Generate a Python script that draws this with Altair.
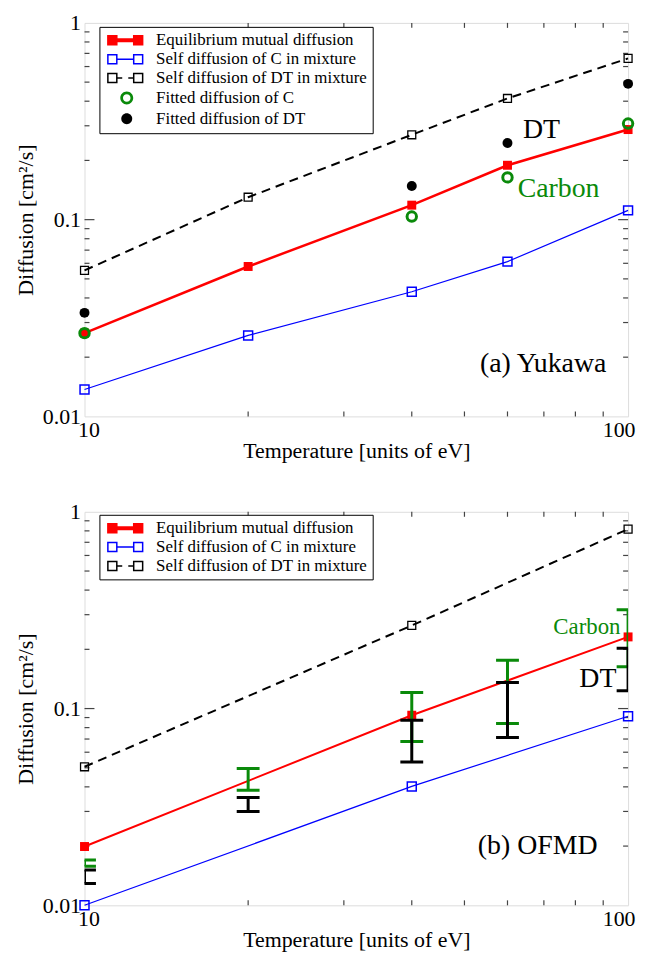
import altair as alt
import pandas as pd

FONT = "Liberation Serif"
RED = "#ff0000"
BLUE = "#0000ff"
GREEN = "#0a8a0a"
BLACK = "#000000"
FRAME = "#444444"

# ---------------- data: panel (a) Yukawa ----------------
T_a = [10, 20, 40, 60, 100]
mutual_a = [0.0265, 0.0578, 0.1185, 0.189, 0.287]
selfC_a = [0.0137, 0.0258, 0.0430, 0.0612, 0.1115]
selfDT_a = [0.0552, 0.130, 0.270, 0.413, 0.660]
T_fit = [10, 40, 60, 100]
fitC_a = [0.0265, 0.1037, 0.164, 0.308]
fitDT_a = [0.0336, 0.1484, 0.2455, 0.49]

# ---------------- data: panel (b) OFMD ----------------
T_b = [10, 40, 100]
mutual_b = [0.0199, 0.0925, 0.2313]
selfC_b = [0.0100, 0.0402, 0.0914]
selfDT_b = [0.0506, 0.2645, 0.817]
T_err = [10, 20, 40, 60, 100]
carbon_lo = [0.0158, 0.0384, 0.0681, 0.0840, 0.163]
carbon_hi = [0.0170, 0.0496, 0.1208, 0.1758, 0.318]
dt_lo = [0.0129, 0.0300, 0.0535, 0.0713, 0.1231]
dt_hi = [0.0151, 0.0353, 0.0873, 0.1355, 0.2025]

# ---------------- labels ----------------
legend_a = ["Equilibrium mutual diffusion", "Self diffusion of C in mixture",
            "Self diffusion of DT in mixture", "Fitted diffusion of C", "Fitted diffusion of DT"]
legend_b = legend_a[:3]
x_title = "Temperature [units of eV]"
y_title = "Diffusion [cm²/s]"
x_labels = [10, 100]
y_labels = [0.01, 0.1, 1]
x_minor = [20, 30, 40, 50, 60, 70, 80, 90]
y_minor = [0.02, 0.03, 0.04, 0.05, 0.06, 0.07, 0.08, 0.09,
           0.2, 0.3, 0.4, 0.5, 0.6, 0.7, 0.8, 0.9]
y_major = [0.1]

ann_a_text = ["DT", "Carbon", "(a) Yukawa"]
ann_a_x = [69.3, 74.5, 69.8]
ann_a_y = [0.284, 0.1426, 0.01836]
ann_a_color = [BLACK, GREEN, BLACK]
ann_a_size = [28, 28, 28]

ann_b_text = ["Carbon", "DT", "(b) OFMD"]
ann_b_x = [84.0, 88.0, 68.2]
ann_b_y = [0.261, 0.142, 0.0201]
ann_b_color = [GREEN, BLACK, BLACK]
ann_b_size = [23, 28, 28]

W = 547
H_A = 396
H_B = 396

# legend symbol paths (unit = 7px)
SQ_L = "M-0.714,-0.643H0.571V0.643H-0.714Z"
SQ_R = "M3,-0.643H4.286V0.643H3Z"
P_RED = SQ_L + SQ_R + "M0.571,-0.18H3V0.18H0.571Z"
P_BLUE = SQ_L + SQ_R + "M0.571,0H3"
P_BLACK = SQ_L + SQ_R + "M0.571,0H1.35M2.22,0H3"
P_RING = ("M2.929,0A0.929,0.929 0 1,0 1.071,0A0.929,0.929 0 1,0 2.929,0Z"
          "M2.543,0A0.543,0.543 0 1,1 1.457,0A0.543,0.543 0 1,1 2.543,0Z")
P_DOT = "M2.786,0A0.786,0.786 0 1,0 1.214,0A0.786,0.786 0 1,0 2.786,0Z"

xscale = alt.Scale(type="log", domain=[10, 100], nice=False)
yscale = alt.Scale(type="log", domain=[0.01, 1], nice=False)

xaxis = alt.Axis(values=x_labels, format="~g", title=x_title, ticks=False, tickSize=0,
                 grid=False, domain=False, labelFont=FONT, labelFontSize=22,
                 labelColor="black", labelPadding=3, titleFont=FONT, titleFontSize=22,
                 titleFontWeight="normal", titleColor="black", titlePadding=0,
                 labelFlush=True, labelFlushOffset=7)
yaxis = alt.Axis(values=y_labels, format="~g", title=y_title, ticks=False, tickSize=0,
                 grid=False, domain=False, labelFont=FONT, labelFontSize=22,
                 labelColor="black", labelPadding=4, titleFont=FONT, titleFontSize=22,
                 titleFontWeight="normal", titleColor="black", titlePadding=5,
                 labelFlush=False)


def series_df(xs, ys):
    return pd.DataFrame({"T": xs, "D": ys})


def line_with_points(xs, ys, color, width, dash=None, filled=True, size=81, sw=1.5):
    df = series_df(xs, ys)
    enc = dict(x=alt.X("T:Q", scale=xscale, axis=xaxis),
               y=alt.Y("D:Q", scale=yscale, axis=yaxis))
    lkw = dict(color=color, strokeWidth=width)
    if dash:
        lkw["strokeDash"] = dash
    line = alt.Chart(df).mark_line(**lkw).encode(**enc)
    pts = alt.Chart(df).mark_point(shape="square", filled=filled, size=size,
                                   color=color, strokeWidth=sw, opacity=1).encode(**enc)
    return [line, pts]


def frame_ticks(H):
    layers = []
    dx = pd.DataFrame({"T": x_minor})
    for y0, y1 in [(0, 5), (H, H - 5)]:
        layers.append(alt.Chart(dx).mark_rule(color=FRAME, strokeWidth=1.2).encode(
            x=alt.X("T:Q", scale=xscale, axis=xaxis), y=alt.value(y0), y2=alt.value(y1)))
    dym = pd.DataFrame({"D": y_minor})
    dyM = pd.DataFrame({"D": y_major})
    for d, ln in [(dym, 5), (dyM, 10)]:
        for x0, x1 in [(0, ln), (W, W - ln)]:
            layers.append(alt.Chart(d).mark_rule(color=FRAME, strokeWidth=1.2).encode(
                y=alt.Y("D:Q", scale=yscale, axis=yaxis), x=alt.value(x0), x2=alt.value(x1)))
    return layers


def legend_layer(labels, paths, fills, strokes, ly):
    df = pd.DataFrame({"series": labels})
    leg = alt.Legend(title=None, orient="none", legendX=15, legendY=ly,
                     labelFont=FONT, labelFontSize=17, labelColor="black",
                     symbolSize=196, symbolStrokeWidth=1.5, labelOffset=35,
                     padding=5, rowPadding=1, strokeColor="black", fillColor="white",
                     cornerRadius=0, labelLimit=400, symbolOpacity=1)
    return alt.Chart(df).transform_filter("false").mark_point(opacity=1).encode(
        shape=alt.Shape("series:N", scale=alt.Scale(domain=labels, range=paths), legend=leg),
        fill=alt.Fill("series:N", scale=alt.Scale(domain=labels, range=fills), legend=leg),
        stroke=alt.Stroke("series:N", scale=alt.Scale(domain=labels, range=strokes), legend=leg),
    )


def annotations(texts, xs, ys, colors, sizes):
    layers = []
    for t, x, y, c, s in zip(texts, xs, ys, colors, sizes):
        df = pd.DataFrame({"T": [x], "D": [y], "label": [t]})
        layers.append(alt.Chart(df).mark_text(font=FONT, fontSize=s, color=c,
                                              align="center", baseline="middle").encode(
            x=alt.X("T:Q", scale=xscale, axis=xaxis),
            y=alt.Y("D:Q", scale=yscale, axis=yaxis), text="label:N"))
    return layers


def errorbars(xs, lo, hi, color):
    df = pd.DataFrame({"T": xs, "lo": lo, "hi": hi})
    rule = alt.Chart(df).mark_rule(color=color, strokeWidth=3, clip=True).encode(
        x=alt.X("T:Q", scale=xscale, axis=xaxis),
        y=alt.Y("lo:Q", scale=yscale, axis=yaxis), y2="hi:Q")
    caps = []
    for f in ["lo", "hi"]:
        caps.append(alt.Chart(df).mark_tick(color=color, orient="horizontal", size=23,
                                            thickness=3, clip=True, opacity=1).encode(
            x=alt.X("T:Q", scale=xscale, axis=xaxis),
            y=alt.Y(f"{f}:Q", scale=yscale, axis=yaxis)))
    return [rule] + caps


# ---------------- panel (a) ----------------
layers_a = []
layers_a += frame_ticks(H_A)
layers_a += line_with_points(T_a, mutual_a, RED, 2.5, filled=True, size=81)
layers_a += line_with_points(T_a, selfC_a, BLUE, 1.2, filled=False, size=81, sw=1.5)
layers_a += line_with_points(T_a, selfDT_a, BLACK, 2, dash=[9, 6], filled=False, size=64, sw=1.3)
layers_a.append(alt.Chart(series_df(T_fit, fitC_a)).mark_point(
    shape="circle", filled=False, size=90, color=GREEN, strokeWidth=3, opacity=1).encode(
    x=alt.X("T:Q", scale=xscale, axis=xaxis), y=alt.Y("D:Q", scale=yscale, axis=yaxis)))
layers_a.append(alt.Chart(series_df(T_fit, fitDT_a)).mark_point(
    shape="circle", filled=True, size=100, color=BLACK, opacity=1).encode(
    x=alt.X("T:Q", scale=xscale, axis=xaxis), y=alt.Y("D:Q", scale=yscale, axis=yaxis)))
layers_a += annotations(ann_a_text, ann_a_x, ann_a_y, ann_a_color, ann_a_size)
layers_a.append(legend_layer(legend_a, [P_RED, P_BLUE, P_BLACK, P_RING, P_DOT],
                             [RED, "transparent", "transparent", GREEN, BLACK],
                             [RED, BLUE, BLACK, "transparent", "transparent"], 4))
panel_a = alt.layer(*layers_a).properties(width=W, height=H_A)

# ---------------- panel (b) ----------------
layers_b = []
layers_b += frame_ticks(H_B)
layers_b += line_with_points(T_b, mutual_b, RED, 2, filled=True, size=81)
layers_b += line_with_points(T_b, selfC_b, BLUE, 1.2, filled=False, size=81, sw=1.5)
layers_b += line_with_points(T_b, selfDT_b, BLACK, 2, dash=[9, 6], filled=False, size=64, sw=1.3)
layers_b += errorbars(T_err, carbon_lo, carbon_hi, GREEN)
layers_b += errorbars(T_err, dt_lo, dt_hi, BLACK)
layers_b += annotations(ann_b_text, ann_b_x, ann_b_y, ann_b_color, ann_b_size)
layers_b.append(legend_layer(legend_b, [P_RED, P_BLUE, P_BLACK],
                             [RED, "transparent", "transparent"],
                             [RED, BLUE, BLACK], 3))
panel_b = alt.layer(*layers_b).properties(width=W, height=H_B)

chart = alt.vconcat(panel_a, panel_b, spacing=38).resolve_scale(
    x="independent", y="independent", shape="independent", fill="independent",
    stroke="independent").resolve_legend(shape="independent", fill="independent",
                                          stroke="independent").properties(
    padding={"left": 6, "top": 0, "right": 0, "bottom": 0}
).configure_view(stroke=FRAME, strokeWidth=1.5).configure(background="white")

chart.save("out.html", embed_options={"renderer": "svg", "actions": False})
